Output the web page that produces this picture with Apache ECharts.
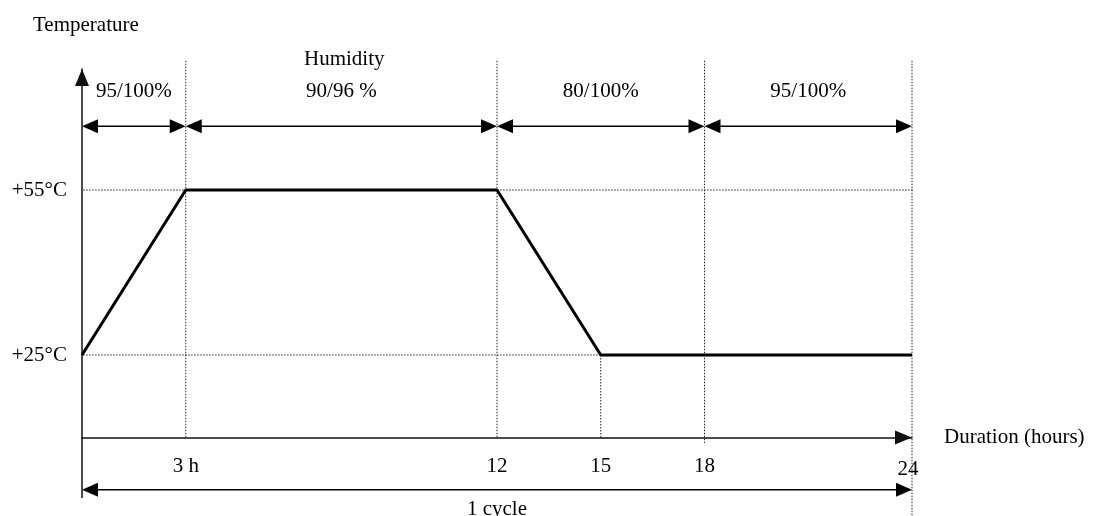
<!DOCTYPE html>
<html>
<head>
<meta charset="utf-8">
<script src="https://cdn.jsdelivr.net/npm/echarts@6/dist/echarts.min.js"></script>
<style>html,body{margin:0;padding:0;background:#fff;}#chart{width:1100px;height:516px;}</style>
</head>
<body>
<div id="chart"></div>
<script>
// ---- data ----
const profileHours = [0, 3, 12, 15, 24];
const profileTemps = [25, 55, 55, 25, 25];
const tempLevels = [25, 55];
const tickHours = [3, 12, 15, 18, 24];
const tickLabels = ['3 h', '12', '15', '18', '24'];
const humidityBounds = [0, 3, 12, 18, 24];
const humidityLabels = ['95/100%', '90/96 %', '80/100%', '95/100%'];
const cycleBounds = [0, 24];
const cycleLabel = '1 cycle';

// ---- layout constants (axis units) ----
const Y_MIN = 10, Y_MAX = 77;
const ARROW_LEVEL = 66.6;
const GUIDE_TOP = 78.5;
const CYCLE_LEVEL = 0.5;
const AXIS_EXT_BOTTOM = -1;
const FONT = 'Liberation Serif';
const FS = 21;
const INK = '#000';

const series = [];

function dotted(points) {
  series.push({
    type: 'line', data: points, symbol: 'none', clip: false, silent: true,
    lineStyle: { color: '#222', width: 1, type: [1.5, 1.5] }, z: 1
  });
}
// horizontal guides
dotted([[-0.4, 55], [24.4, 55]]);
dotted([[-0.4, 25], [24, 25]]);
// vertical guides
dotted([[3, GUIDE_TOP], [3, Y_MIN]]);
dotted([[12, GUIDE_TOP], [12, Y_MIN]]);
dotted([[15, 25], [15, Y_MIN]]);
dotted([[18, GUIDE_TOP], [18, Y_MIN - 1]]);
dotted([[24, GUIDE_TOP], [24, -4.3]]);

// y-axis extension below the x axis
series.push({
  type: 'line', data: [[0, Y_MIN], [0, AXIS_EXT_BOTTOM]], symbol: 'none', clip: false,
  lineStyle: { color: '#111', width: 1.5 }, z: 2
});

// temperature profile
series.push({
  type: 'line',
  data: profileHours.map((h, i) => [h, profileTemps[i]]),
  symbol: 'none', clip: false,
  lineStyle: { color: INK, width: 3 }, z: 5
});

// double-headed dimension arrows, drawn through the cartesian scales
function arrowSeries(bounds, labels, level, labelDy) {
  const data = labels.map((l, i) => [bounds[i], bounds[i + 1], level]);
  return {
    type: 'custom', clip: false, z: 4,
    encode: { x: [0, 1], y: 2 },
    data: data,
    renderItem: function (params, api) {
      const a = api.coord([api.value(0), api.value(2)]);
      const b = api.coord([api.value(1), api.value(2)]);
      const L = 16, W = 7;
      const y = a[1];
      return {
        type: 'group',
        children: [
          { type: 'line', shape: { x1: a[0] + L - 1, y1: y, x2: b[0] - L + 1, y2: y },
            style: { stroke: INK, lineWidth: 1.5 } },
          { type: 'polygon', shape: { points: [[a[0], y], [a[0] + L, y - W], [a[0] + L, y + W]] },
            style: { fill: INK } },
          { type: 'polygon', shape: { points: [[b[0], y], [b[0] - L, y - W], [b[0] - L, y + W]] },
            style: { fill: INK } },
          { type: 'text',
            style: { text: labels[params.dataIndex], x: (a[0] + b[0]) / 2, y: y + labelDy,
                     align: 'center', verticalAlign: 'middle',
                     fontFamily: FONT, fontSize: FS, fill: INK } }
        ]
      };
    }
  };
}
series.push(arrowSeries(humidityBounds, humidityLabels, ARROW_LEVEL, -35));
series.push(arrowSeries(cycleBounds, [cycleLabel], CYCLE_LEVEL, 20));

const option = {
  animation: false,
  backgroundColor: '#fff',
  textStyle: { fontFamily: FONT, color: INK },
  title: [
    { text: 'Temperature', left: 28, top: 10, textStyle: { fontFamily: FONT, fontSize: FS, fontWeight: 'normal', color: INK } },
    { text: 'Humidity', left: 299, top: 44, textStyle: { fontFamily: FONT, fontSize: FS, fontWeight: 'normal', color: INK } }
  ],
  grid: { left: 82, right: 188, top: 69, bottom: 78.5 },
  xAxis: {
    type: 'value', min: 0, max: 24,
    name: 'Duration (hours)', nameLocation: 'end', nameGap: 32,
    nameTextStyle: { fontFamily: FONT, fontSize: FS, color: INK, padding: [6, 0, 0, 0] },
    axisLine: { show: true, symbol: ['none', 'triangle'], symbolSize: [14, 17], symbolOffset: [0, -8.5],
                lineStyle: { color: '#111', width: 1.5 } },
    axisTick: { show: false },
    splitLine: { show: false },
    axisLabel: {
      customValues: tickHours,
      formatter: v => (v === 24 ? '{b|' + tickLabels[tickHours.indexOf(v)] + '}' : tickLabels[tickHours.indexOf(v)]),
      rich: { b: { fontFamily: FONT, fontSize: FS, color: INK, padding: [3, 8, 0, 0] } },
      margin: 18, fontFamily: FONT, fontSize: FS, color: INK
    }
  },
  yAxis: {
    type: 'value', min: Y_MIN, max: Y_MAX,
    axisLine: { show: true, symbol: ['none', 'triangle'], symbolSize: [14, 17], symbolOffset: [0, -8.5],
                lineStyle: { color: '#111', width: 1.5 } },
    axisTick: { show: false },
    splitLine: { show: false },
    axisLabel: {
      customValues: tempLevels,
      formatter: v => '+' + v + '°C',
      margin: 15, fontFamily: FONT, fontSize: FS, color: INK
    }
  },
  series: series
};

const chart = echarts.init(document.getElementById('chart'), null, { renderer: 'canvas' });
chart.setOption(option);
</script>
</body>
</html>
